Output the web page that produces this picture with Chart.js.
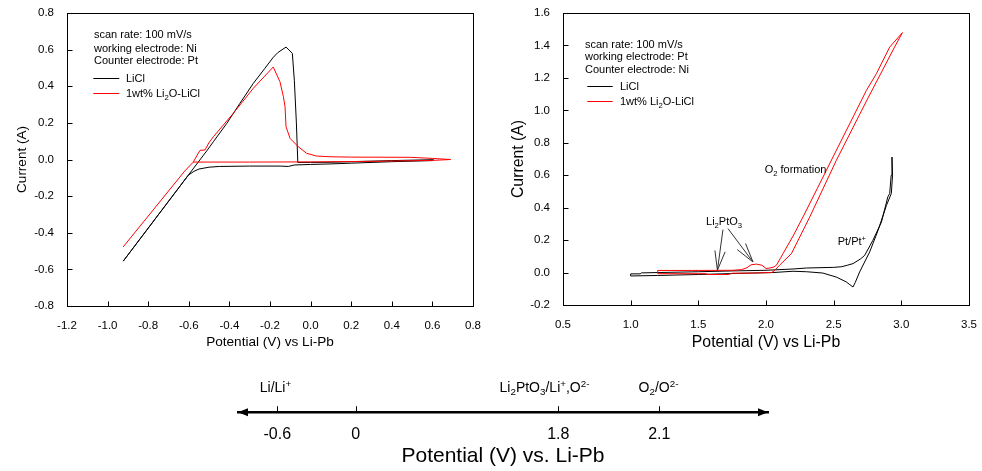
<!DOCTYPE html>
<html>
<head>
<meta charset="utf-8">
<script src="https://cdn.jsdelivr.net/npm/chart.js@4.4.0/dist/chart.umd.min.js"></script>
<style>
  html, body { margin: 0; padding: 0; background: #fff; }
  #wrap { position: relative; width: 982px; height: 471px; overflow: hidden; }
  canvas { position: absolute; }
</style>
</head>
<body>
<div id="wrap">
  <canvas id="niChart" width="490" height="355" style="left:0;top:0"></canvas>
  <canvas id="ptChart" width="492" height="355" style="left:490px;top:0"></canvas>
  <canvas id="scaleChart" width="982" height="116" style="left:0;top:355px"></canvas>
</div>
<script>
// ---- data ----
const seriesLabels = ['LiCl', '1wt% Li_{2}O-LiCl'];

// Ni working electrode (left panel)
const niLiClV = [-0.923, -0.602, -0.575, -0.55, -0.50, -0.45, -0.30, -0.15, -0.11, -0.08, 0.00, 0.10, 0.20, 0.40, 0.60,
                 0.605, 0.40, 0.20, 0.10, 0.00, -0.063, -0.070, -0.080, -0.090, -0.121, -0.16, -0.184, -0.225, -0.282,
                 -0.348, -0.413, -0.479, -0.509, -0.602, -0.923];
const niLiClI = [-0.555, -0.085, -0.065, -0.052, -0.042, -0.038, -0.036, -0.036, -0.038, -0.030, -0.027, -0.024, -0.020, -0.012, -0.006,
                 -0.001, -0.006, -0.012, -0.015, -0.016, -0.016, 0.20, 0.43, 0.58, 0.614, 0.585, 0.558, 0.498, 0.416,
                 0.307, 0.197, 0.097, 0.051, -0.085, -0.555];
const niLi2OV = [-0.923, -0.62, -0.578, -0.30, 0.00, 0.30, 0.60, 0.69, 0.60, 0.49, 0.20, 0.095, 0.029, -0.020, -0.061,
                 -0.101, -0.121, -0.126, -0.134, -0.151, -0.184, -0.282, -0.381, -0.479, -0.501, -0.52, -0.545, -0.578];
const niLi2OI = [-0.477, -0.063, -0.014, -0.014, -0.013, -0.010, -0.005, 0.000, 0.006, 0.012, 0.013, 0.015, 0.019, 0.034, 0.070,
                 0.115, 0.179, 0.288, 0.343, 0.425, 0.505, 0.389, 0.252, 0.124, 0.091, 0.052, 0.050, -0.014];

// Pt working electrode (right panel)
const ptLiClV = [1.00, 1.07, 1.08, 1.50, 1.75, 2.00, 2.20, 2.30, 2.50, 2.56, 2.60, 2.643, 2.70, 2.729, 2.79, 2.853, 2.90, 2.914,
                 2.925, 2.931, 2.935, 2.926, 2.89, 2.828, 2.766, 2.692, 2.66, 2.643, 2.62, 2.594, 2.52, 2.42, 2.30, 2.20,
                 2.05, 1.80, 1.50, 1.20, 1.00, 1.00];
const ptLiClI = [-0.008, -0.008, -0.002, 0.005, 0.010, 0.014, 0.022, 0.028, 0.032, 0.036, 0.045, 0.055, 0.085, 0.106, 0.199, 0.311, 0.466, 0.487,
                 0.60, 0.712, 0.60, 0.487, 0.414, 0.260, 0.127, 0.004, -0.060, -0.089, -0.075, -0.058, -0.028, -0.003, 0.005, 0.008,
                 0.000, -0.005, -0.012, -0.018, -0.021, -0.008];
const ptLi2OV = [1.20, 1.45, 1.75, 1.82, 1.86, 1.89, 1.93, 1.97, 2.00, 2.03, 2.06, 2.077, 2.126, 2.20, 2.273, 2.38, 2.495, 2.742,
                 2.816, 2.914, 3.008, 2.95, 2.75, 2.52, 2.323, 2.188, 2.10, 2.06, 2.04, 1.90, 1.75, 1.72, 1.58, 1.55, 1.20, 1.20];
const ptLi2OI = [0.013, 0.013, 0.014, 0.018, 0.030, 0.048, 0.052, 0.045, 0.025, 0.028, 0.035, 0.045, 0.117, 0.225, 0.342, 0.52, 0.712, 1.123,
                 1.226, 1.39, 1.479, 1.39, 1.07, 0.692, 0.342, 0.117, 0.045, 0.010, 0.000, -0.003, -0.004, -0.012, -0.012, -0.007, -0.007, 0.013];

// axes
const niXRange = [-1.2, 0.8], niXStep = 0.2;
const niYRange = [-0.8, 0.8], niYStep = 0.2;
const ptXRange = [0.5, 3.5], ptXStep = 0.5;
const ptYRange = [-0.2, 1.6], ptYStep = 0.2;

// text blocks
const niConditions = ['scan rate: 100 mV/s', 'working electrode: Ni', 'Counter electrode: Pt'];
const ptConditions = ['scan rate: 100 mV/s', 'working electrode: Pt', 'Counter electrode: Ni'];
const ptNotes = [
  { text: 'O_{2} formation', at: [1.99, 0.635], align: 'left' },
  { text: 'Li_{2}PtO_{3}', at: [1.69, 0.316], align: 'center' },
  { text: 'Pt/Pt^{+}', at: [2.53, 0.195], align: 'left' }
];
const ptArrows = [
  [[1.682, 0.265], [1.641, 0.014]],
  [[1.719, 0.271], [1.904, 0.065]]
];

// potential scale (bottom)
const scalePotentials = [-0.6, 0, 1.8, 2.1];
const scaleCouples = ['Li/Li^{+}', '', 'Li_{2}PtO_{3}/Li^{+},O^{2-}', 'O_{2}/O^{2-}'];

// ---- helpers ----
const FONT = "'Liberation Sans', Arial, Helvetica, sans-serif";
Chart.defaults.font.family = FONT;
Chart.defaults.color = '#000';

function pts(xs, ys) {
  return xs.map((v, i) => ({ x: v, y: ys[i] }));
}

// draws text with _{sub} and ^{sup} parts, y is the visual middle
function drawRich(ctx, text, x, y, size, align) {
  const parts = text.split(/(_\{[^}]*\}|\^\{[^}]*\})/).filter(s => s.length).map(s => {
    if (s.startsWith('_{')) return { t: s.slice(2, -1), dy: size * 0.24, f: size * 0.7 };
    if (s.startsWith('^{')) return { t: s.slice(2, -1), dy: -size * 0.38, f: size * 0.7 };
    return { t: s, dy: 0, f: size };
  });
  let w = 0;
  parts.forEach(p => { ctx.font = p.f + 'px ' + FONT; p.w = ctx.measureText(p.t).width; w += p.w; });
  let cx = align === 'center' ? x - w / 2 : align === 'right' ? x - w : x;
  const base = y + size * 0.35;
  ctx.textAlign = 'left';
  ctx.textBaseline = 'alphabetic';
  parts.forEach(p => {
    ctx.font = p.f + 'px ' + FONT;
    ctx.fillText(p.t, cx, base + p.dy);
    cx += p.w;
  });
}

const fmt1 = v => (Math.abs(v) < 1e-9 ? 0 : v).toFixed(1);

// box around the plot plus inward tick marks
const framePlugin = {
  id: 'frame',
  afterDatasetsDraw(chart, args, o) {
    const { ctx, chartArea: a, scales: { x, y } } = chart;
    const L = Math.round(a.left) + 0.5, R = Math.round(a.right) + 0.5;
    const T = Math.round(a.top) + 0.5, B = Math.round(a.bottom) + 0.5;
    ctx.save();
    ctx.strokeStyle = '#000';
    ctx.lineWidth = 1;
    ctx.strokeRect(L, T, R - L, B - T);
    ctx.beginPath();
    x.ticks.forEach(t => {
      const px = Math.round(x.getPixelForValue(t.value)) + 0.5;
      ctx.moveTo(px, B); ctx.lineTo(px, B - o.tickLen);
    });
    y.ticks.forEach(t => {
      const py = Math.round(y.getPixelForValue(t.value)) + 0.5;
      ctx.moveTo(L, py); ctx.lineTo(L + o.tickLen, py);
    });
    ctx.stroke();
    ctx.restore();
  }
};

// condition text, legend keys, annotations
const notesPlugin = {
  id: 'notes',
  afterDatasetsDraw(chart, args, o) {
    const { ctx, chartArea: a, scales: { x, y } } = chart;
    ctx.save();
    ctx.fillStyle = '#000';
    o.lines.forEach((t, i) => drawRich(ctx, t, a.left + o.textX, a.top + o.rowsY[i], o.size, 'left'));
    chart.data.datasets.forEach((ds, i) => {
      const ly = Math.round(a.top + o.rowsY[o.lines.length + i]) + 0.5;
      ctx.strokeStyle = ds.borderColor;
      ctx.lineWidth = 1;
      ctx.beginPath();
      ctx.moveTo(a.left + o.keyX, ly);
      ctx.lineTo(a.left + o.keyX + o.keyLen, ly);
      ctx.stroke();
      ctx.fillStyle = '#000';
      drawRich(ctx, ds.label, a.left + o.keyX + o.keyText, ly, o.size, 'left');
    });
    (o.notes || []).forEach(n => {
      drawRich(ctx, n.text, x.getPixelForValue(n.at[0]), y.getPixelForValue(n.at[1]), o.size, n.align);
    });
    ctx.strokeStyle = '#333';
    ctx.lineWidth = 1;
    (o.arrows || []).forEach(([from, to]) => {
      const x1 = x.getPixelForValue(from[0]), y1 = y.getPixelForValue(from[1]);
      const x2 = x.getPixelForValue(to[0]), y2 = y.getPixelForValue(to[1]);
      const ang = Math.atan2(y1 - y2, x1 - x2);
      ctx.beginPath();
      ctx.moveTo(x1, y1); ctx.lineTo(x2, y2);
      [-1, 1].forEach(s => {
        ctx.moveTo(x2, y2);
        ctx.lineTo(x2 + o.headLen * Math.cos(ang + s * o.headAngle), y2 + o.headLen * Math.sin(ang + s * o.headAngle));
      });
      ctx.stroke();
    });
    ctx.restore();
  }
};

function panel(canvasId, datasets, p) {
  return new Chart(document.getElementById(canvasId), {
    type: 'scatter',
    data: { datasets },
    options: {
      responsive: false,
      animation: false,
      events: [],
      layout: { padding: p.padding },
      plugins: {
        legend: { display: false },
        tooltip: { enabled: false },
        frame: { tickLen: 5 },
        notes: p.notes
      },
      scales: {
        x: {
          type: 'linear',
          min: p.xRange[0], max: p.xRange[1],
          afterFit: s => { s.height = p.xHeight; },
          grid: { display: false },
          border: { display: false },
          ticks: { stepSize: p.xStep, padding: 5, font: { size: 11.5 }, callback: fmt1, maxRotation: 0, autoSkip: false },
          title: { display: true, text: 'Potential (V) vs Li-Pb', font: { size: p.xTitleSize }, padding: { top: 0, bottom: p.xTitlePad } }
        },
        y: {
          type: 'linear',
          min: p.yRange[0], max: p.yRange[1],
          afterFit: s => { s.width = p.yWidth; },
          grid: { display: false },
          border: { display: false },
          ticks: { stepSize: p.yStep, padding: 5, font: { size: 11.5 }, callback: fmt1, autoSkip: false },
          title: { display: true, text: 'Current (A)', font: { size: p.yTitleSize }, padding: { top: p.yTitlePad, bottom: 0 } }
        }
      }
    },
    plugins: [framePlugin, notesPlugin]
  });
}

function cvSets(liclV, liclI, li2oV, li2oI) {
  return [
    { label: seriesLabels[0], data: pts(liclV, liclI), showLine: true, borderColor: '#000000', borderWidth: 1, pointRadius: 0, order: 1 },
    { label: seriesLabels[1], data: pts(li2oV, li2oI), showLine: true, borderColor: '#ff0000', borderWidth: 1, pointRadius: 0, order: 0 }
  ];
}

panel('niChart', cvSets(niLiClV, niLiClI, niLi2OV, niLi2OI), {
  padding: { left: 0, right: 17, top: 13, bottom: 0 },
  xRange: niXRange, xStep: niXStep, yRange: niYRange, yStep: niYStep,
  xHeight: 49, yWidth: 67,
  xTitleSize: 13.6, xTitlePad: 4.1, yTitleSize: 13.5, yTitlePad: 14.6,
  notes: {
    lines: niConditions, size: 11,
    textX: 27, rowsY: [21.3, 34.7, 47, 64.7, 80.3],
    keyX: 26.3, keyLen: 26, keyText: 32.7
  }
});

panel('ptChart', cvSets(ptLiClV, ptLiClI, ptLi2OV, ptLi2OI), {
  padding: { left: 0, right: 13, top: 13, bottom: 0 },
  xRange: ptXRange, xStep: ptXStep, yRange: ptYRange, yStep: ptYStep,
  xHeight: 50, yWidth: 73,
  xTitleSize: 15.8, xTitlePad: 2.8, yTitleSize: 15.8, yTitlePad: 19.5,
  notes: {
    lines: ptConditions, size: 11,
    textX: 22, rowsY: [31.3, 43, 56.3, 72.7, 87.7],
    keyX: 24.3, keyLen: 25.4, keyText: 32.7,
    notes: ptNotes, arrows: ptArrows, headLen: 20, headAngle: 0.26
  }
});

// ---- schematic potential scale: piecewise mapping between tick stops ----
class SchematicScale extends Chart.LinearScale {
  getPixelForValue(value) {
    const vs = this.options.stopValues, fs = this.options.stopFractions;
    let i = 0;
    while (i < vs.length - 2 && value > vs[i + 1]) i++;
    const f = fs[i] + (value - vs[i]) * (fs[i + 1] - fs[i]) / (vs[i + 1] - vs[i]);
    return this.getPixelForDecimal(f);
  }
}
SchematicScale.id = 'schematic';
SchematicScale.defaults = Chart.LinearScale.defaults;
Chart.register(SchematicScale);

const numberLinePlugin = {
  id: 'numberLine',
  afterDraw(chart, args, o) {
    const { ctx, chartArea: a } = chart;
    const xs = chart.scales.x;
    const y = Math.round(xs.top) + 0.25;
    ctx.save();
    ctx.fillStyle = '#000';
    ctx.strokeStyle = '#000';
    ctx.beginPath();
    ctx.moveTo(a.left, y);
    ctx.lineTo(a.left + o.headLen, y - o.headHalf);
    ctx.lineTo(a.left + o.headLen, y + o.headHalf);
    ctx.closePath();
    ctx.moveTo(a.right, y);
    ctx.lineTo(a.right - o.headLen, y - o.headHalf);
    ctx.lineTo(a.right - o.headLen, y + o.headHalf);
    ctx.closePath();
    ctx.fill();
    ctx.lineWidth = 1;
    xs.ticks.forEach((t, i) => {
      const px = Math.round(xs.getPixelForValue(t.value)) + 0.5;
      ctx.beginPath();
      ctx.moveTo(px, y);
      ctx.lineTo(px, y - o.tickLen);
      ctx.stroke();
      if (o.couples[i]) drawRich(ctx, o.couples[i], px + o.nudge[i], y + o.labelDy, o.size, 'center');
    });
    ctx.restore();
  }
};

new Chart(document.getElementById('scaleChart'), {
  type: 'scatter',
  data: { datasets: [] },
  options: {
    responsive: false,
    animation: false,
    events: [],
    layout: { padding: { left: 238, right: 214, top: 20, bottom: 0 } },
    plugins: {
      legend: { display: false },
      tooltip: { enabled: false },
      numberLine: {
        couples: scaleCouples, nudge: [-2, 0, -14, -1], size: 14, labelDy: -25.3,
        tickLen: 6, headLen: 10, headHalf: 4
      }
    },
    scales: {
      x: {
        type: 'schematic',
        min: -0.9, max: 2.6,
        stopValues: scalePotentials,
        stopFractions: [0.0742, 0.2221, 0.6043, 0.7949],
        afterBuildTicks: s => { s.ticks = scalePotentials.map(v => ({ value: v })); },
        afterFit: s => { s.height = 59; },
        grid: { display: false },
        border: { display: true, width: 2.5, color: '#000' },
        ticks: { padding: 5, font: { size: 16 }, callback: v => String(v), autoSkip: false, maxRotation: 0 },
        title: { display: true, text: 'Potential (V) vs. Li-Pb', font: { size: 21 }, padding: { top: 0, bottom: 1.7 } }
      },
      y: { display: false, min: 0, max: 1 }
    }
  },
  plugins: [numberLinePlugin]
});
</script>
</body>
</html>
